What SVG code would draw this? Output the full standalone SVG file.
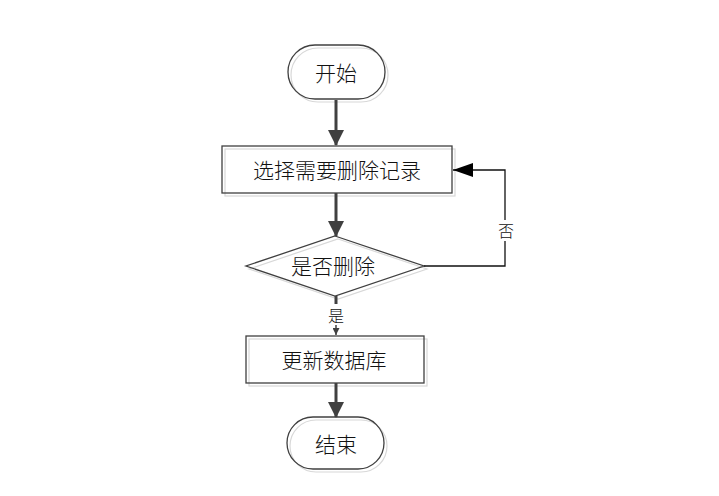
<svg xmlns="http://www.w3.org/2000/svg" width="719" height="496" viewBox="0 0 719 496">
<defs>
<style>
.sh{fill:none;stroke:#d8d8d8;stroke-width:1.2}
.nd{fill:none;stroke:#404040;stroke-width:1.3}
.t{font-family:"Noto Sans CJK SC","Noto Sans",sans-serif;font-size:21px;font-weight:300;fill:#111;text-anchor:middle;dominant-baseline:central}
.s{font-family:"Noto Sans CJK SC","Noto Sans",sans-serif;font-size:16px;font-weight:300;fill:#111;text-anchor:middle;dominant-baseline:central}
.thick{fill:none;stroke:#404040;stroke-width:3}
.thin{fill:none;stroke:#111;stroke-width:1.3}
</style>
<marker id="big" markerWidth="16" markerHeight="16" refX="15" refY="8" orient="auto" markerUnits="userSpaceOnUse"><path d="M0,0 L16,8 L0,16 Z" fill="#404040"/></marker>
<marker id="blk" markerWidth="20" markerHeight="14" refX="20" refY="7" orient="auto" markerUnits="userSpaceOnUse"><path d="M0,0 L20,7 L0,14 Z" fill="#000"/></marker>
<marker id="sm" markerWidth="7" markerHeight="7" refX="7" refY="3.5" orient="auto" markerUnits="userSpaceOnUse"><path d="M0,0 L7,3.5 L0,7 Z" fill="#404040"/></marker>
</defs>
<g id="start">
<rect class="sh" x="291" y="48" width="97" height="54" rx="27"/>
<rect class="nd" x="288" y="45" width="97" height="54" rx="27"/>
<text class="t" x="336" y="72">开始</text>
</g>
<g id="select">
<rect class="sh" x="225" y="149" width="230" height="47"/>
<rect class="nd" x="222" y="146" width="230" height="47"/>
<text class="t" x="337" y="169">选择需要删除记录</text>
</g>
<g id="decide">
<polygon class="sh" points="338,239 427,269 338,299 249,269"/>
<polygon class="nd" points="335,236 424,266 335,296 246,266"/>
<text class="t" x="333" y="265">是否删除</text>
</g>
<g id="update">
<rect class="sh" x="249" y="339" width="178" height="47"/>
<rect class="nd" x="246" y="336" width="178" height="47"/>
<text class="t" x="334" y="359">更新数据库</text>
</g>
<g id="end">
<rect class="sh" x="290" y="420" width="97" height="52" rx="26"/>
<rect class="nd" x="287" y="417" width="97" height="52" rx="26"/>
<text class="t" x="336" y="443">结束</text>
</g>
<g id="connectors">
<line class="thick" x1="336" y1="100" x2="336" y2="145" marker-end="url(#big)"/>
<line class="thick" x1="336" y1="193" x2="336" y2="236" marker-end="url(#big)"/>
<line class="thick" x1="336" y1="383" x2="336" y2="417" marker-end="url(#big)"/>
<line x1="336" y1="296" x2="336" y2="304" stroke="#404040" stroke-width="3"/>
<line x1="336" y1="325" x2="336" y2="335" stroke="#404040" stroke-width="1.5" marker-end="url(#sm)"/>
<text class="s" x="336" y="315">是</text>
<polyline class="thin" points="424,266 505,266 505,241"/>
<polyline class="thin" points="505,220 505,170 453,170" marker-end="url(#blk)"/>
<text class="s" x="506" y="230">否</text>
</g>
</svg>
